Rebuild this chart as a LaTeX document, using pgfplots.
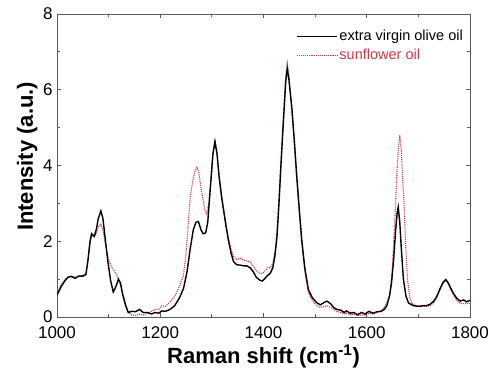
\documentclass[border=0pt]{standalone}
\usepackage{pgfplots}
\pgfplotsset{compat=1.18}
\usepackage{fontspec}
\setmainfont{Liberation Sans}
\definecolor{sunred}{RGB}{220,50,65}
\definecolor{axgray}{RGB}{90,90,90}
\pgfplotstableread{
x y
1000 0.58
1008 0.80
1015 0.95
1021 1.05
1028 1.07
1035 1.02
1042 1.08
1050 1.08
1056 1.12
1060 1.5
1064 2.0
1067 2.2
1072 2.13
1076 2.3
1080 2.6
1085 2.8
1089 2.6
1094 2.0
1099 1.42
1104 0.95
1109 0.66
1114 0.8
1119 1.0
1123 0.9
1127 0.6
1133 0.3
1138 0.12
1145 0.15
1152 0.14
1160 0.2
1167 0.12
1175 0.12
1183 0.08
1190 0.12
1197 0.10
1203 0.16
1210 0.15
1219 0.2
1228 0.3
1237 0.5
1245 0.75
1252 1.2
1258 1.8
1264 2.3
1269 2.5
1274 2.52
1279 2.3
1283 2.2
1288 2.22
1292 2.5
1297 3.4
1302 4.3
1306 4.63
1310 4.3
1314 3.7
1319 3.15
1324 2.7
1328 2.35
1332 2.03
1337 1.7
1342 1.46
1348 1.38
1355 1.37
1362 1.35
1368 1.35
1374 1.3
1380 1.2
1386 1.05
1393 0.97
1398 0.95
1403 1.02
1408 1.1
1413 1.15
1418 1.3
1422 1.6
1426 2.1
1430 3.0
1433 3.8
1437 4.8
1440 5.5
1443 6.2
1446 6.55
1449 6.3
1452 5.9
1455 5.5
1460 4.6
1464 3.8
1469 2.9
1474 2.05
1480 1.3
1487 0.72
1495 0.5
1503 0.38
1510 0.32
1517 0.38
1523 0.42
1530 0.35
1536 0.25
1542 0.2
1550 0.18
1556 0.12
1561 0.16
1568 0.1
1575 0.12
1582 0.06
1590 0.12
1597 0.08
1604 0.15
1612 0.1
1620 0.14
1628 0.15
1634 0.2
1639 0.3
1644 0.55
1648 0.9
1652 1.5
1656 2.3
1659 2.75
1661 2.9
1664 2.5
1667 1.8
1671 1.0
1676 0.55
1681 0.37
1690 0.3
1700 0.28
1710 0.3
1716 0.3
1722 0.33
1730 0.42
1736 0.55
1742 0.75
1748 0.92
1753 0.99
1758 0.9
1763 0.75
1768 0.62
1774 0.5
1781 0.42
1788 0.45
1793 0.4
1800 0.44
}\olive
\pgfplotstableread{
x y
1000 0.62
1008 0.85
1015 0.98
1021 1.05
1028 1.08
1035 1.05
1042 1.08
1050 1.1
1056 1.15
1060 1.5
1064 1.95
1067 2.15
1072 2.12
1076 2.2
1080 2.38
1085 2.45
1089 2.3
1094 1.9
1099 1.55
1104 1.38
1109 1.25
1114 1.15
1119 1.0
1125 0.75
1131 0.45
1137 0.15
1145 0.05
1152 0.04
1160 0.08
1167 0.05
1175 0.1
1183 0.15
1190 0.2
1197 0.2
1203 0.3
1210 0.28
1219 0.4
1228 0.55
1237 0.8
1245 1.1
1250 1.7
1254 2.4
1258 3.17
1263 3.6
1267 3.85
1271 3.95
1275 3.8
1279 3.4
1283 3.08
1287 2.8
1290 2.72
1294 3.0
1298 3.6
1302 4.3
1306 4.68
1310 4.35
1314 3.75
1319 3.2
1324 2.75
1328 2.4
1332 2.1
1337 1.8
1342 1.6
1348 1.52
1355 1.55
1362 1.5
1368 1.48
1374 1.45
1380 1.35
1386 1.22
1393 1.15
1398 1.15
1403 1.22
1408 1.3
1413 1.3
1418 1.42
1422 1.7
1426 2.2
1430 3.1
1433 3.9
1437 4.9
1440 5.6
1443 6.35
1446 6.7
1449 6.4
1452 5.95
1455 5.5
1460 4.55
1464 3.7
1469 2.8
1474 1.95
1480 1.2
1487 0.65
1495 0.42
1503 0.3
1510 0.25
1517 0.28
1523 0.3
1530 0.25
1536 0.2
1542 0.15
1550 0.12
1556 0.08
1561 0.1
1568 0.06
1575 0.08
1582 0.04
1590 0.06
1597 0.05
1604 0.1
1612 0.08
1620 0.12
1628 0.16
1634 0.25
1639 0.4
1645 0.6
1649 1.2
1652 1.9
1655 2.74
1658 3.7
1661 4.4
1664 4.8
1667 4.4
1670 3.5
1672 3.1
1675 2.0
1679 0.98
1683 0.55
1687 0.36
1695 0.3
1705 0.28
1716 0.28
1722 0.3
1730 0.38
1736 0.52
1742 0.72
1748 0.9
1753 0.97
1758 0.88
1763 0.72
1768 0.58
1774 0.45
1781 0.36
1790 0.35
1800 0.36
}\sunflower
\begin{document}
\begin{tikzpicture}
\useasboundingbox (-57pt,-53pt) rectangle (435pt,317pt);
\begin{axis}[
  at={(0,0)}, anchor=south west,
  width=413pt, height=303pt, scale only axis,
  xmin=1000, xmax=1800, ymin=0, ymax=8,
  xtick={1000,1200,...,1800}, ytick={0,2,...,8},
  minor x tick num=1, minor y tick num=1,
  tick align=inside, major tick length=4pt, minor tick length=3pt,
  axis line style={axgray, line width=0.9pt},
  every tick/.style={axgray, line width=0.8pt},
  tick label style={font=\fontsize{17}{20}\selectfont, black},
  /pgf/number format/assume math mode=true,
  /pgf/number format/1000 sep={},
  xticklabel style={yshift=-6pt},
  yticklabel style={xshift=-1pt},
  xlabel={\bfseries Raman shift (cm\textsuperscript{-1})},
  ylabel={\bfseries Intensity (a.u.)},
  label style={font=\fontsize{22}{26}\selectfont},
  xlabel style={at={(axis description cs:0.5,0)}, anchor=base, yshift=-46pt},
  ylabel style={at={(axis description cs:0,0.53)}, anchor=base, yshift=24pt},
]
\addplot[sunred, densely dotted, line width=1.1pt] table[x=x,y=y] {\sunflower};
\addplot[black, line width=1.4pt] table[x=x,y=y] {\olive};
\end{axis}
\begin{axis}[
  at={(0,0)}, anchor=south west,
  width=413pt, height=303pt, scale only axis,
  xmin=1000, xmax=1800, ymin=0, ymax=8, hide axis,
  legend style={draw=none, fill=none, at={(1,1)}, anchor=north east,
    xshift=-5pt, yshift=-14pt, font=\fontsize{14.5}{17}\selectfont,
    inner sep=0pt, row sep=3pt},
  legend cell align=left,
  legend image code/.code={\draw[#1] (0pt,0pt) -- (40pt,0pt);},
]
\addlegendimage{black, line width=1.4pt}
\addlegendentry{extra virgin olive oil}
\addlegendimage{sunred, densely dotted, line width=1.1pt}
\addlegendentry{\textcolor{sunred}{sunflower oil}}
\end{axis}
\end{tikzpicture}
\end{document}
